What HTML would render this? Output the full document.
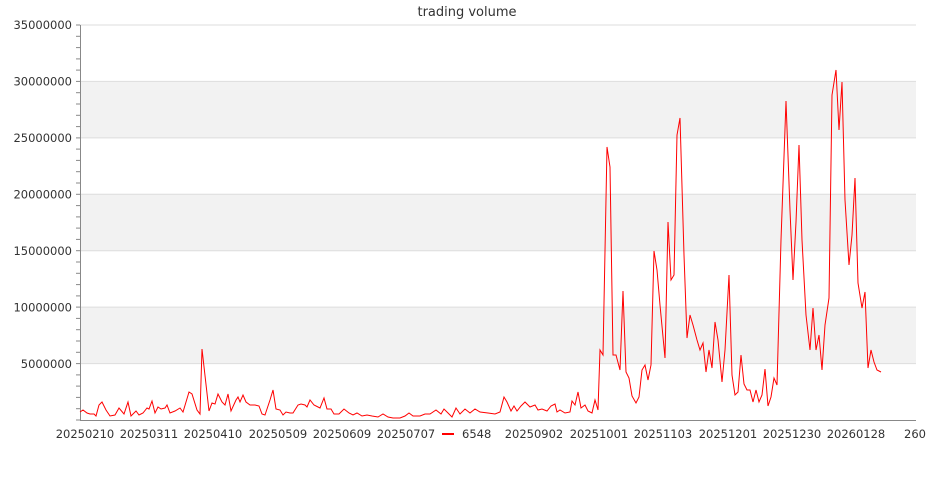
<!DOCTYPE html>
<html><head><meta charset="utf-8"><style>
html,body{margin:0;padding:0;background:#fff;width:935px;height:500px;overflow:hidden}
text{font-family:"DejaVu Sans","Liberation Sans",sans-serif;fill:#333}
</style></head><body>
<svg width="935" height="500" xmlns="http://www.w3.org/2000/svg">
<rect x="80" y="81.4" width="836" height="56.4" fill="#f2f2f2"/>
<rect x="80" y="194.3" width="836" height="56.4" fill="#f2f2f2"/>
<rect x="80" y="307.1" width="836" height="56.4" fill="#f2f2f2"/>
<g stroke="#ddd" stroke-width="1">
<line x1="80" x2="916" y1="25" y2="25"/><line x1="80" x2="916" y1="81.4" y2="81.4"/>
<line x1="80" x2="916" y1="137.9" y2="137.9"/><line x1="80" x2="916" y1="194.3" y2="194.3"/>
<line x1="80" x2="916" y1="250.7" y2="250.7"/><line x1="80" x2="916" y1="307.1" y2="307.1"/>
<line x1="80" x2="916" y1="363.6" y2="363.6"/>
</g>
<g stroke="#888" stroke-width="1">
<line x1="80.5" y1="25" x2="80.5" y2="420"/><line x1="80" y1="420.5" x2="916" y2="420.5"/>
</g>
<g id="ticks" stroke="#888"></g>
<g font-size="11.5" text-anchor="end">
<text x="72" y="29">35000000</text><text x="72" y="85.5">30000000</text>
<text x="72" y="142">25000000</text><text x="72" y="198.5">20000000</text>
<text x="72" y="255">15000000</text><text x="72" y="311.5">10000000</text>
<text x="72" y="368">5000000</text>
</g>
<g font-size="11.5" text-anchor="middle">
<text x="85" y="438">20250210</text><text x="149" y="438">20250311</text>
<text x="213" y="438">20250410</text><text x="278" y="438">20250509</text>
<text x="342" y="438">20250609</text><text x="406" y="438">20250707</text>
<text x="534" y="438">20250902</text><text x="599" y="438">20251001</text>
<text x="663" y="438">20251103</text><text x="728" y="438">20251201</text>
<text x="792" y="438">20251230</text><text x="856" y="438">20260128</text>
<text x="915" y="438">260</text>
</g>
<text x="467" y="16" font-size="13" text-anchor="middle">trading volume</text>
<line x1="442" x2="454" y1="434" y2="434" stroke="#f00" stroke-width="2"/>
<text x="462" y="438" font-size="11.5">6548</text>
<polyline fill="none" stroke="#f00" stroke-width="1" points="80,412 83,410 87,413 90,414 94,414 96,416 99,405 102,402 106,410 110,416 115,415 119,408 124,414 128,402 131,416 136,411 139,415 143,413 147,408 149,409 152,401 155,413 158,407 161,409 165,408 167,405 170,413 175,411 180,408 183,412 189,392 192,394 197,410 200,414 202,349 209,411 212,403 215,404 218,394 222,402 225,405 228,394 231,411 236,400 238,397 240,402 243,395 246,402 250,405 255,405 259,406 262,414 265,415 270,400 273,390 276,409 280,410 283,415 286,412 290,413 293,413 298,405 301,404 305,405 307,407 310,400 314,405 320,408 324,398 327,409 331,409 334,414 339,414 344,409 349,413 353,415 357,413 362,416 367,415 372,416 378,417 383,414 388,417 393,418 400,418 405,416 409,413 413,416 420,416 425,414 430,414 436,410 441,414 444,409 448,413 452,417 456,408 460,414 465,409 470,413 475,409 480,412 488,413 495,414 500,412 504,397 507,402 511,411 514,406 517,411 521,406 525,402 530,407 535,405 538,410 542,409 547,411 551,406 555,404 557,412 560,410 565,413 570,412 572,401 575,405 578,392 581,408 585,405 588,411 592,413 595,400 598,410 600,350 603,355 607,147 610,167 613,355 616,355 620,370 623,291 626,372 629,378 632,396 636,403 639,397 642,370 645,365 648,380 651,365 654,251 657,270 660,305 665,358 668,222 671,280 674,275 677,135 680,118 684,255 687,338 690,315 693,325 697,340 700,350 703,343 706,372 709,350 712,368 715,322 718,340 722,382 725,350 729,275 732,375 735,395 738,392 741,355 744,384 747,390 750,390 753,402 756,390 759,402 762,395 765,369 768,406 771,397 774,378 777,385 781,240 786,101 790,210 793,280 796,222 799,145 802,240 806,315 810,350 813,308 816,350 819,335 822,370 825,325 829,298 832,95 836,70 839,130 842,82 845,200 849,265 852,235 855,178 858,283 862,308 865,292 868,368 871,350 874,362 877,370 881,372"/>
</svg>
<script>
var g=document.getElementById('ticks'),s='';
for(var i=0;i<=35;i++){var y=25+i*395/35;var L=(i%5==0)?4:4;s+='<line x1="'+(80-L)+'" x2="80" y1="'+y.toFixed(1)+'" y2="'+y.toFixed(1)+'"/>';}
g.innerHTML=s;
</script>
</body></html>
